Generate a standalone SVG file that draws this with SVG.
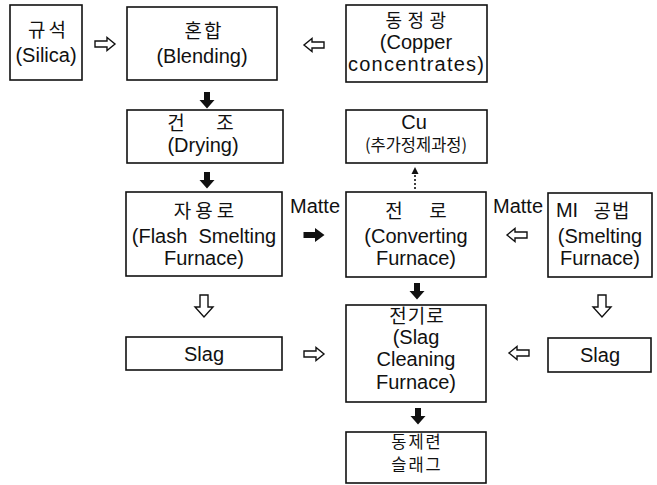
<svg xmlns="http://www.w3.org/2000/svg" xmlns:xlink="http://www.w3.org/1999/xlink" width="657" height="485" viewBox="0 0 657 485">
<style>
.box{fill:#fff;stroke:#111;stroke-width:1.6}
.t{font-family:"Liberation Sans","Noto Sans CJK KR",Arial,sans-serif;font-size:20px;fill:#111;text-anchor:middle}
.k{font-family:"Noto Sans CJK KR","Liberation Sans",sans-serif;font-size:19px;fill:#111;text-anchor:middle}
.open{fill:#fff;stroke:#111;stroke-width:1.4;stroke-linejoin:miter}
.solid{fill:#111;stroke:none}
</style>
<defs>
<path id="openR" d="M-10,-3 H2 V-6.5 L10,0 L2,6.5 V3 H-10 Z"/>
<path id="openL" d="M10,-3 H-2 V-6.5 L-10,0 L-2,6.5 V3 H10 Z"/>
<path id="openD" d="M-4,-11 H4 V1 H9 L0,11 L-9,1 H-4 Z"/>
<path id="solidD" d="M-3,-8 H3 V0 H7.5 L0,8.5 L-7.5,0 H-3 Z"/>
<path id="solidR" d="M-10.5,-3 H1 V-7 L10.5,0 L1,7 V3 H-10.5 Z"/>
</defs>
<rect width="657" height="485" fill="#fff"/>

<g id="silica">
<rect class="box" x="10" y="5" width="72" height="75"/>
<text class="k" x="48.5" y="37" letter-spacing="3">규석</text>
<text class="t" x="46" y="62">(Silica)</text>
</g>
<g id="blending">
<rect class="box" x="127" y="7" width="150" height="73"/>
<text class="k" x="204" y="38" letter-spacing="2">혼합</text>
<text class="t" x="202" y="63">(Blending)</text>
</g>
<g id="copper">
<rect class="box" x="346" y="5" width="141" height="77"/>
<text class="k" x="418.5" y="26.5" letter-spacing="5.5" style="font-size:18px">동정광</text>
<text class="t" x="416" y="48.5">(Copper</text>
<text class="t" x="416" y="70.5" textLength="136" lengthAdjust="spacing">concentrates)</text>
</g>
<g id="drying">
<rect class="box" x="127" y="110" width="156" height="53"/>
<text class="k" x="176" y="130">건</text>
<text class="k" x="225" y="130">조</text>
<text class="t" x="203" y="152">(Drying)</text>
</g>
<g id="cu">
<rect class="box" x="346" y="110" width="141" height="53"/>
<text class="t" x="414" y="129">Cu</text>
<text class="k" x="416" y="151" style="font-size:16.5px">(추가정제과정)</text>
</g>
<g id="flash">
<rect class="box" x="126" y="192" width="156" height="84"/>
<text class="k" x="206" y="218" letter-spacing="4">자용로</text>
<text class="t" x="204" y="243" xml:space="preserve">(Flash  Smelting</text>
<text class="t" x="204" y="265">Furnace)</text>
</g>
<g id="converting">
<rect class="box" x="346" y="192" width="140" height="85"/>
<text class="k" x="394" y="218">전</text>
<text class="k" x="438" y="218">로</text>
<text class="t" x="416" y="243">(Converting</text>
<text class="t" x="416" y="265">Furnace)</text>
</g>
<g id="mi">
<rect class="box" x="548" y="193" width="104" height="84"/>
<text class="t" x="567" y="217">MI</text>
<text class="k" x="612" y="218" letter-spacing="1">공법</text>
<text class="t" x="600" y="243">(Smelting</text>
<text class="t" x="600" y="265">Furnace)</text>
</g>
<g id="slag-left">
<rect class="box" x="126" y="337" width="156" height="33"/>
<text class="t" x="204" y="361">Slag</text>
</g>
<g id="slag-right">
<rect class="box" x="548" y="338" width="103" height="34"/>
<text class="t" x="600" y="362">Slag</text>
</g>
<g id="cleaning">
<rect class="box" x="346" y="305" width="140" height="97"/>
<text class="k" x="417" y="323" letter-spacing="1">전기로</text>
<text class="t" x="416" y="344">(Slag</text>
<text class="t" x="416" y="366">Cleaning</text>
<text class="t" x="416" y="389">Furnace)</text>
</g>
<g id="cu-slag">
<rect class="box" x="346" y="432" width="140" height="51"/>
<text class="k" x="417" y="448" letter-spacing="2" style="font-size:16.5px">동제련</text>
<text class="k" x="417" y="471" letter-spacing="2" style="font-size:16.5px">슬래그</text>
</g>

<g id="labels">
<text class="t" x="315" y="213">Matte</text>
<text class="t" x="518" y="213">Matte</text>
</g>

<g id="connectors">
<use href="#openR" class="open" x="105" y="44"/>
<use href="#openL" class="open" x="314" y="45"/>
<use href="#solidD" class="solid" x="207" y="100"/>
<use href="#solidD" class="solid" x="207" y="180"/>
<use href="#solidR" class="solid" x="314" y="235"/>
<use href="#openL" class="open" x="517" y="235"/>
<line x1="415" y1="189" x2="415" y2="172" stroke="#111" stroke-width="1.6" stroke-dasharray="2,2"/>
<path class="solid" d="M415,167 L411.5,174 L418.5,174 Z"/>
<use href="#openD" class="open" x="204" y="306"/>
<use href="#openD" class="open" x="602" y="306"/>
<use href="#solidD" class="solid" x="417" y="291"/>
<use href="#solidD" class="solid" x="418" y="416"/>
<use href="#openR" class="open" x="314" y="354"/>
<use href="#openL" class="open" x="519" y="353"/>
</g>
</svg>
